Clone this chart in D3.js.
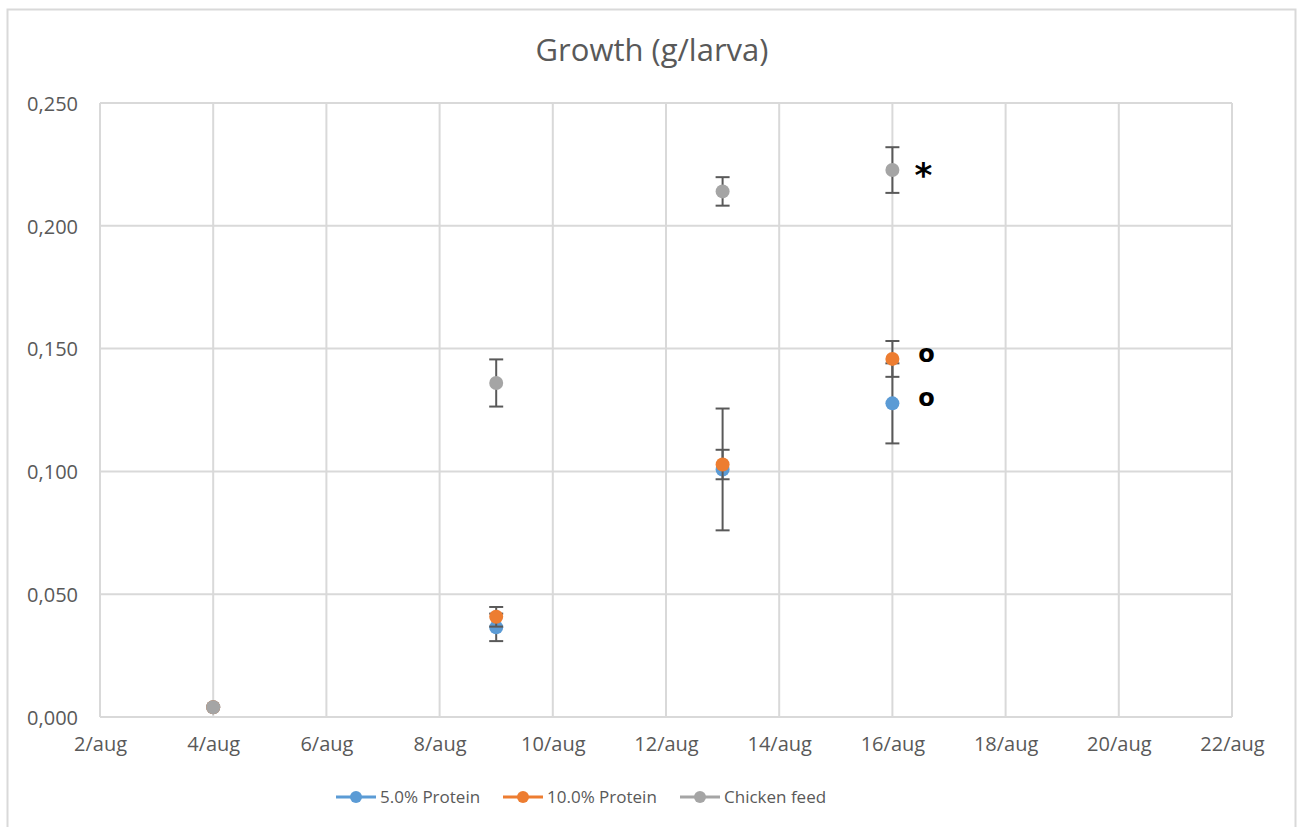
<!DOCTYPE html>
<html>
<head>
<meta charset="utf-8">
<script src="https://cdnjs.cloudflare.com/ajax/libs/d3/7.8.5/d3.min.js"></script>
<style>
  body { margin: 0; background: #fff; }
  svg { display: block; font-family: "Open Sans", sans-serif; }
</style>
</head>
<body>
<svg id="chart" width="1304" height="827"></svg>
<script>
// data
var dates = ["2019-08-04", "2019-08-09", "2019-08-13", "2019-08-16"];
var seriesNames = ["5.0% Protein", "10.0% Protein", "Chicken feed"];
var colors = ["#5b9bd5", "#ed7d31", "#a5a5a5"];
var protein5 = [0.004, 0.0365, 0.1008, 0.1277];
var protein5Err = [0, 0.0056, 0.0248, 0.0163];
var protein10 = [0.004, 0.0408, 0.1028, 0.1458];
var protein10Err = [0, 0.004, 0.006, 0.0073];
var chicken = [0.004, 0.136, 0.214, 0.2227];
var chickenErr = [0, 0.0096, 0.0058, 0.0093];
var yTicks = [0, 0.05, 0.1, 0.15, 0.2, 0.25];
var notes = [
  { date: "2019-08-16", value: 0.2227, label: "*" },
  { date: "2019-08-16", value: 0.1458, label: "o" },
  { date: "2019-08-16", value: 0.1277, label: "o" }
];

var parse = d3.timeParse("%Y-%m-%d");
var series = [protein5, protein10, chicken].map(function(vals, i) {
  var errs = [protein5Err, protein10Err, chickenErr][i];
  return {
    name: seriesNames[i],
    color: colors[i],
    points: vals.map(function(v, j) { return { date: parse(dates[j]), value: v, err: errs[j] }; })
  };
});

var svg = d3.select("#chart");
var plotLeft = 100, plotRight = 1232, plotTop = 103, plotBottom = 717;

var x = d3.scaleTime()
  .domain([parse("2019-08-02"), parse("2019-08-22")])
  .range([plotLeft, plotRight]);
var y = d3.scaleLinear().domain([0, 0.25]).range([plotBottom, plotTop]);

// chart frame
svg.append("rect")
  .attr("x", 7.5).attr("y", 9.5)
  .attr("width", 1288).attr("height", 840)
  .attr("fill", "none").attr("stroke", "#d9d9d9").attr("stroke-width", 2);

// title
svg.append("text")
  .attr("x", 652).attr("y", 61)
  .attr("text-anchor", "middle")
  .attr("fill", "#595959")
  .attr("font-size", 31)
  .text("Growth (g/larva)");

// gridlines
var xTicks = d3.timeDay.range(parse("2019-08-02"), d3.timeDay.offset(parse("2019-08-22"), 1), 2);

svg.append("g")
  .selectAll("line")
  .data(yTicks)
  .enter().append("line")
  .attr("x1", plotLeft).attr("x2", plotRight)
  .attr("y1", function(d) { return y(d); })
  .attr("y2", function(d) { return y(d); })
  .attr("stroke", "#d9d9d9").attr("stroke-width", 2);

svg.append("g")
  .selectAll("line")
  .data(xTicks)
  .enter().append("line")
  .attr("x1", function(d) { return x(d); })
  .attr("x2", function(d) { return x(d); })
  .attr("y1", plotTop).attr("y2", plotBottom)
  .attr("stroke", "#d9d9d9").attr("stroke-width", 2);

// axes (labels only)
var fmtY = function(d) { return d3.format(".3f")(d).replace(".", ","); };
var yAxis = svg.append("g")
  .attr("transform", "translate(" + plotLeft + ",0)")
  .call(d3.axisLeft(y).tickValues(yTicks).tickFormat(fmtY).tickSize(0).tickPadding(22));
var fmtX = d3.timeFormat("%-d/aug");
var xAxis = svg.append("g")
  .attr("transform", "translate(0," + plotBottom + ")")
  .call(d3.axisBottom(x).tickValues(xTicks).tickFormat(fmtX).tickSize(0).tickPadding(22));

[yAxis, xAxis].forEach(function(a) {
  a.select(".domain").remove();
  a.selectAll("text")
    .attr("fill", "#595959")
    .attr("font-size", 20)
    .attr("font-family", "'Open Sans', sans-serif");
});
yAxis.selectAll("text").attr("dy", "0.36em");
xAxis.selectAll("text").attr("dy", "0.6em");

// error bars and markers
series.forEach(function(s) {
  var g = svg.append("g");
  var withErr = s.points.filter(function(p) { return p.err > 0; });
  var eb = g.selectAll(".eb").data(withErr).enter().append("g")
    .attr("stroke", "#595959").attr("stroke-width", 2);
  eb.append("line")
    .attr("x1", function(p) { return x(p.date); })
    .attr("x2", function(p) { return x(p.date); })
    .attr("y1", function(p) { return y(p.value - p.err); })
    .attr("y2", function(p) { return y(p.value + p.err); });
  [-1, 1].forEach(function(sign) {
    eb.append("line")
      .attr("x1", function(p) { return x(p.date) - 7; })
      .attr("x2", function(p) { return x(p.date) + 7; })
      .attr("y1", function(p) { return y(p.value + sign * p.err); })
      .attr("y2", function(p) { return y(p.value + sign * p.err); });
  });
  g.selectAll("circle").data(s.points).enter().append("circle")
    .attr("cx", function(p) { return x(p.date); })
    .attr("cy", function(p) { return y(p.value); })
    .attr("r", 7)
    .attr("fill", s.color);
});

// significance marks
svg.append("g")
  .selectAll("text")
  .data(notes)
  .enter().append("text")
  .attr("x", function(d) { return x(parse(d.date)) + (d.label === "*" ? 31 : 34); })
  .attr("y", function(d) { return y(d.value); })
  .attr("text-anchor", "middle")
  .attr("font-weight", "bold")
  .attr("font-family", "'DejaVu Sans', sans-serif")
  .attr("font-size", function(d) { return d.label === "*" ? 34 : 24; })
  .attr("dy", function(d) { return d.label === "*" ? "0.5em" : "0.13em"; })
  .attr("fill", "#000")
  .text(function(d) { return d.label; });

// legend
var legendX = [336, 503, 680];
var legend = svg.append("g")
  .selectAll("g")
  .data(series)
  .enter().append("g")
  .attr("transform", function(d, i) { return "translate(" + legendX[i] + ",797)"; });
legend.append("line")
  .attr("x1", 0).attr("x2", 40)
  .attr("stroke", function(d) { return d.color; })
  .attr("stroke-width", 3);
legend.append("circle")
  .attr("cx", 20).attr("r", 6)
  .attr("fill", function(d) { return d.color; });
legend.append("text")
  .attr("x", 44).attr("dy", "0.35em")
  .attr("fill", "#595959")
  .attr("font-size", 17)
  .text(function(d) { return d.name; });
</script>
</body>
</html>
